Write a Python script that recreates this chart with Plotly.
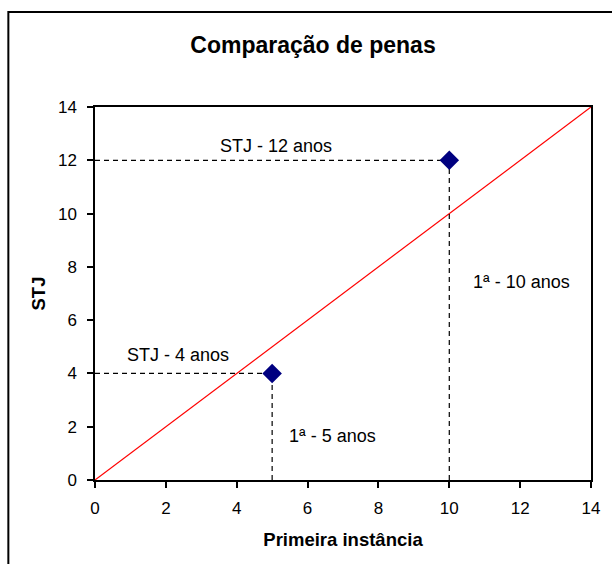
import plotly.graph_objects as go

# Data
primeira = [5, 10]          # primeira instância (anos)
stj = [4, 12]               # STJ (anos)
ref_line = [0, 14]          # linha y = x
tick_vals = [0, 2, 4, 6, 8, 10, 12, 14]
labels = ["STJ - 4 anos", "STJ - 12 anos", "1ª - 5 anos", "1ª - 10 anos"]
label_x = [2.35, 5.1, 6.7, 12.05]
label_y = [4.7, 12.55, 1.65, 7.45]

FONT = "Liberation Sans, Arial, sans-serif"

fig = go.Figure()

# reference diagonal
fig.add_trace(go.Scatter(x=ref_line, y=ref_line, mode="lines",
                         line=dict(color="red", width=1.2), hoverinfo="skip"))

# dashed guide lines
for px, py in zip(primeira, stj):
    fig.add_trace(go.Scatter(x=[0, px], y=[py, py], mode="lines",
                             line=dict(color="black", width=1.2, dash="5px,4px"),
                             hoverinfo="skip"))
    fig.add_trace(go.Scatter(x=[px, px], y=[0, py], mode="lines",
                             line=dict(color="black", width=1.2, dash="5px,4px"),
                             hoverinfo="skip"))

# points
fig.add_trace(go.Scatter(x=primeira, y=stj, mode="markers",
                         marker=dict(symbol="diamond", size=15, color="#000080")))

for t, ax_, ay_ in zip(labels, label_x, label_y):
    fig.add_annotation(x=ax_, y=ay_, text=t, showarrow=False,
                       font=dict(family=FONT, size=18, color="black"))

axis_common = dict(
    range=[0, 14], tickvals=tick_vals, showgrid=False, zeroline=False,
    showline=True, linecolor="black", linewidth=1.5, mirror=True,
    ticks="outside", ticklen=6, tickcolor="black", tickwidth=1.5,
    tickfont=dict(family=FONT, size=17, color="black"),
)

fig.update_xaxes(**axis_common, ticklabelstandoff=6,
                 title=dict(text="<b>Primeira instância</b>", standoff=16,
                            font=dict(family=FONT, size=18.5, color="black")))
fig.update_yaxes(**axis_common, ticklabelstandoff=7,
                 title=dict(text="<b>STJ</b>", standoff=7,
                            font=dict(family=FONT, size=18.5, color="black")))

# outer chart border
fig.add_shape(type="rect", xref="paper", yref="paper",
              x0=(8 - 95) / 498, x1=(640 - 95) / 498,
              y0=(480 - 600) / 373, y1=(480 - 12) / 373,
              line=dict(color="black", width=2), layer="below")

fig.update_layout(
    width=612, height=564,
    margin=dict(l=95, r=19, t=107, b=84),
    paper_bgcolor="white", plot_bgcolor="white",
    showlegend=False,
    title=dict(text="<b>Comparação de penas</b>", x=313 / 612, xanchor="center",
               y=1 - 45 / 564, yanchor="middle", xref="container", yref="container",
               font=dict(family=FONT, size=23, color="black")),
)

fig.write_html("out.html", config={"displayModeBar": False},
               post_script="document.body.style.margin='0';")
